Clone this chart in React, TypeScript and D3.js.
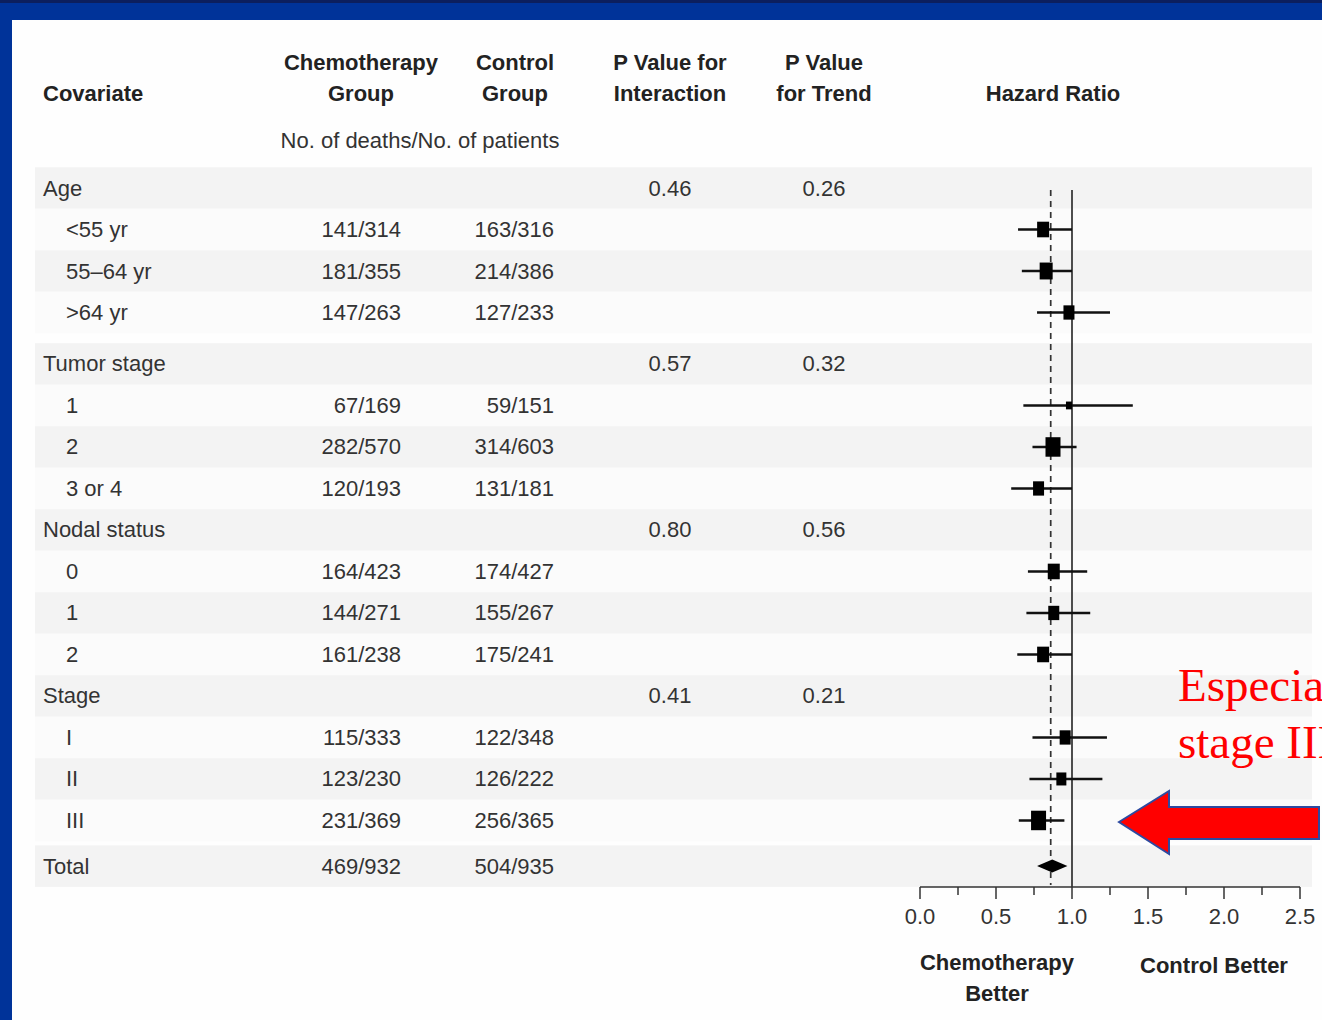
import React from "react";
import * as d3 from "d3";

const rowLabels = ["Age", "<55 yr", "55\u201364 yr", ">64 yr", "Tumor stage", "1", "2", "3 or 4", "Nodal status", "0", "1", "2", "Stage", "I", "II", "III", "Total"];
const rowIsGroup = [true, false, false, false, true, false, false, false, true, false, false, false, true, false, false, false, true];
const chemoCounts = ["", "141/314", "181/355", "147/263", "", "67/169", "282/570", "120/193", "", "164/423", "144/271", "161/238", "", "115/333", "123/230", "231/369", "469/932"];
const controlCounts = ["", "163/316", "214/386", "127/233", "", "59/151", "314/603", "131/181", "", "174/427", "155/267", "175/241", "", "122/348", "126/222", "256/365", "504/935"];
const pInteraction = ["0.46", "", "", "", "0.57", "", "", "", "0.80", "", "", "", "0.41", "", "", "", ""];
const pTrend = ["0.26", "", "", "", "0.32", "", "", "", "0.56", "", "", "", "0.21", "", "", "", ""];
const hr = [null, 0.81, 0.83, 0.98, null, 0.98, 0.875, 0.78, null, 0.88, 0.88, 0.81, null, 0.955, 0.93, 0.78, 0.87];
const ciLow = [null, 0.645, 0.67, 0.77, null, 0.68, 0.74, 0.6, null, 0.71, 0.7, 0.64, null, 0.74, 0.72, 0.65, 0.77];
const ciHigh = [null, 1.0, 1.0, 1.25, null, 1.4, 1.03, 1.0, null, 1.1, 1.12, 1.0, null, 1.23, 1.2, 0.95, 0.97];
const weight = [0, 12, 13, 11, 0, 6, 15, 11, 0, 12, 11, 12, 0, 11, 10, 15, 0];
const overallHR = 0.86;
const axisTicks = [0, 0.5, 1.0, 1.5, 2.0, 2.5];
const minorTicks = [0.25, 0.75, 1.25, 1.75, 2.25];

const W = 1322;
const H = 1020;
const SANS = "'Liberation Sans Narrow', 'Liberation Sans', Arial, sans-serif";

export default function App() {
  const x = d3.scaleLinear().domain([0, 2.5]).range([920, 1300]);
  // slot positions with small extra gaps before certain groups
  const slots = rowLabels.map((_, i) => i + (i >= 4 ? 0.24 : 0) + (i >= 16 ? 0.1 : 0));
  const y = d3.scaleLinear().domain([0, 1]).range([188, 229.5]);
  const rowH = y(1) - y(0);
  const fs = 22;

  return (
    <svg width={W} height={H} style={{ position: "absolute", left: 0, top: 0 }}>
      <rect x={0} y={0} width={W} height={H} fill="#003399" />
      <rect x={0} y={0} width={W} height={3} fill="#0c1f5e" />
      <rect x={12} y={20} width={W - 12} height={H - 20} fill="#fefefe" />

      {/* row stripes */}
      {rowLabels.map((_, i) => (
        <rect key={"s" + i} x={35} y={y(slots[i]) - rowH / 2} width={1277} height={rowH}
          fill={i % 2 === 0 ? "#f3f3f3" : "#fbfbfb"} />
      ))}

      {/* headers */}
      <g fontFamily={SANS} fontWeight="bold" fontSize={fs} fill="#222">
        <text x={43} y={101}>Covariate</text>
        <text x={361} y={70} textAnchor="middle">Chemotherapy</text>
        <text x={361} y={101} textAnchor="middle">Group</text>
        <text x={515} y={70} textAnchor="middle">Control</text>
        <text x={515} y={101} textAnchor="middle">Group</text>
        <text x={670} y={70} textAnchor="middle">P Value for</text>
        <text x={670} y={101} textAnchor="middle">Interaction</text>
        <text x={824} y={70} textAnchor="middle">P Value</text>
        <text x={824} y={101} textAnchor="middle">for Trend</text>
        <text x={1053} y={101} textAnchor="middle">Hazard Ratio</text>
      </g>
      <text x={420} y={148} textAnchor="middle" fontFamily={SANS} fontSize={fs} fill="#333">No. of deaths/No. of patients</text>

      {/* table rows */}
      <g fontFamily={SANS} fontSize={fs} fill="#333">
        {rowLabels.map((lab, i) => {
          const yy = y(slots[i]) + 7.5;
          return (
            <g key={"r" + i}>
              <text x={rowIsGroup[i] ? 43 : 66} y={yy}>{lab}</text>
              <text x={401} y={yy} textAnchor="end">{chemoCounts[i]}</text>
              <text x={554} y={yy} textAnchor="end">{controlCounts[i]}</text>
              <text x={670} y={yy} textAnchor="middle">{pInteraction[i]}</text>
              <text x={824} y={yy} textAnchor="middle">{pTrend[i]}</text>
            </g>
          );
        })}
      </g>

      {/* reference lines */}
      <line x1={x(1)} x2={x(1)} y1={y(0) + 2} y2={887} stroke="#222" strokeWidth={1.6} />
      <line x1={x(overallHR)} x2={x(overallHR)} y1={y(0) + 2} y2={885} stroke="#333" strokeWidth={1.7} strokeDasharray="6,5" />

      {/* estimates */}
      {rowLabels.map((_, i) => {
        const v = hr[i];
        if (v == null) return null;
        const cy = y(slots[i]);
        if (i === rowLabels.length - 1) {
          const pts = [[x(ciLow[i] as number), cy], [x(v), cy - 6.5], [x(ciHigh[i] as number), cy], [x(v), cy + 6.5]];
          return <polygon key={"d" + i} points={pts.map((p) => p.join(",")).join(" ")} fill="#000" />;
        }
        const w = weight[i];
        const h = w * 1.3;
        return (
          <g key={"e" + i}>
            <line x1={x(ciLow[i] as number)} x2={x(ciHigh[i] as number)} y1={cy} y2={cy} stroke="#111" strokeWidth={2.6} />
            <rect x={x(v) - w / 2} y={cy - h / 2} width={w} height={h} fill="#000" />
          </g>
        );
      })}

      {/* axis */}
      <line x1={x(0)} x2={x(2.5)} y1={887} y2={887} stroke="#333" strokeWidth={1.5} />
      {axisTicks.map((t) => (
        <g key={"t" + t}>
          <line x1={x(t)} x2={x(t)} y1={887} y2={899} stroke="#333" strokeWidth={1.5} />
          <text x={x(t)} y={924} textAnchor="middle" fontFamily={SANS} fontSize={fs} fill="#333">{t.toFixed(1)}</text>
        </g>
      ))}
      {minorTicks.map((t) => (
        <line key={"m" + t} x1={x(t)} x2={x(t)} y1={887} y2={895} stroke="#333" strokeWidth={1.5} />
      ))}
      <g fontFamily={SANS} fontWeight="bold" fontSize={fs} fill="#222" textAnchor="middle">
        <text x={997} y={970}>Chemotherapy</text>
        <text x={997} y={1001}>Better</text>
        <text x={1214} y={973}>Control Better</text>
      </g>

      {/* annotation (runs off the right edge, as in the reference) */}
      <g fontFamily="'Liberation Serif', 'Times New Roman', serif" fontSize={47} fill="#ff0000">
        <text x={1178} y={701}>Especially</text>
        <text x={1178} y={758}>stage III</text>
      </g>
      <polygon
        points={[[1119, 822], [1169, 791], [1169, 807], [1319, 807], [1319, 839], [1169, 839], [1169, 854]].map((p) => p.join(",")).join(" ")}
        fill="#ff0000" stroke="#2d4aa0" strokeWidth={2} />
    </svg>
  );
}
